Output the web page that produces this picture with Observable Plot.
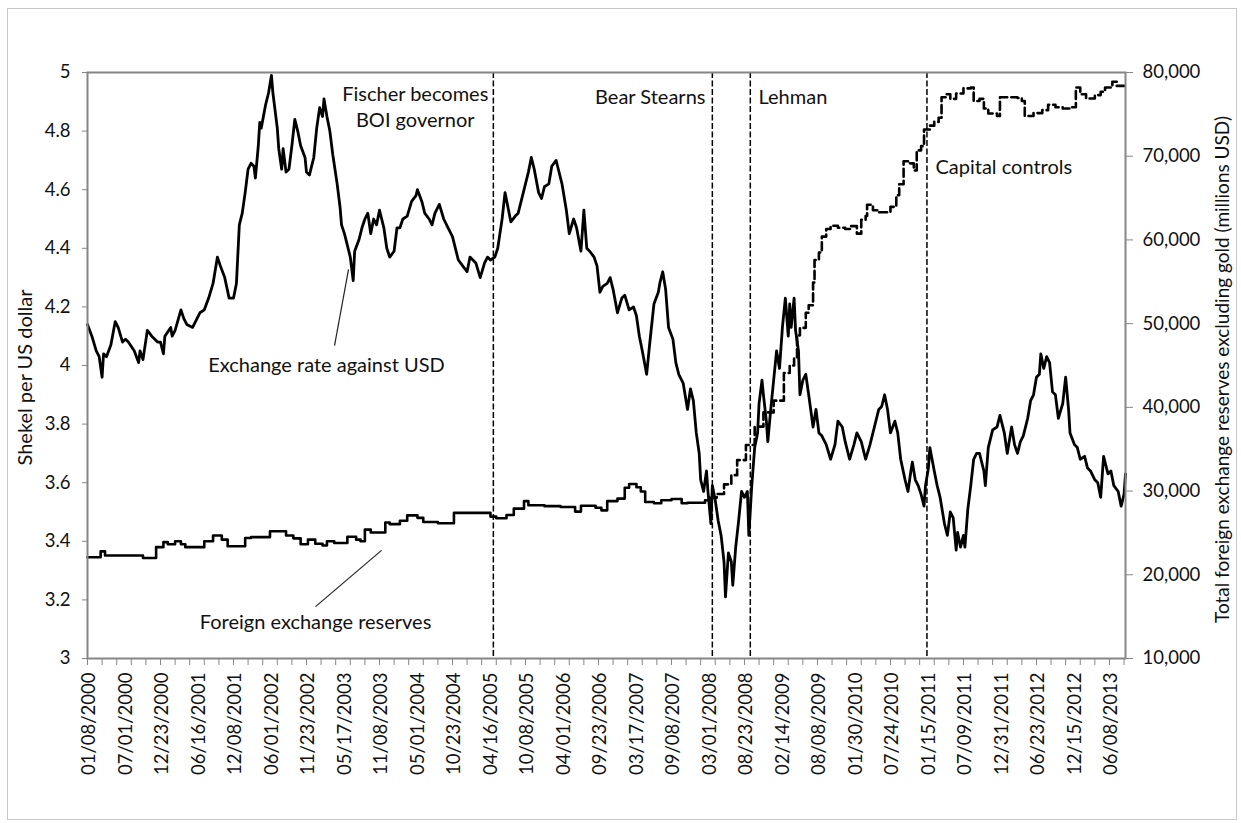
<!DOCTYPE html>
<html>
<head>
<meta charset="utf-8">
<script src="https://cdn.jsdelivr.net/npm/d3@7"></script>
<script src="https://cdn.jsdelivr.net/npm/@observablehq/plot@0.6"></script>
<style>
html, body { margin: 0; padding: 0; background: #fff; }
#wrap { position: relative; width: 1241px; height: 823px; overflow: hidden; }
#wrap svg { position: absolute; left: 0; top: 0; }
#border { position: absolute; left: 7px; top: 8px; width: 1228px; height: 810px; border: 1.5px solid #c8c8c8; pointer-events: none; }
</style>
</head>
<body>
<div id="wrap"><div id="border"></div></div>
<script>
// Weekly category axis: week index from the first observation (Saturday 01/08/2000)
const startDate = "2000-01-08";
const lastWeek = 711;

// X-axis tick labels (every 25 weeks)
const tickLabels = ["01/08/2000","07/01/2000","12/23/2000","06/16/2001","12/08/2001","06/01/2002","11/23/2002","05/17/2003","11/08/2003","05/01/2004","10/23/2004","04/16/2005","10/08/2005","04/01/2006","09/23/2006","03/17/2007","09/08/2007","03/01/2008","08/23/2008","02/14/2009","08/08/2009","01/30/2010","07/24/2010","01/15/2011","07/09/2011","12/31/2011","06/23/2012","12/15/2012","06/08/2013"];

// Left axis ticks (shekel per USD) and right axis ticks (millions USD)
const rateTicks = [3, 3.2, 3.4, 3.6, 3.8, 4, 4.2, 4.4, 4.6, 4.8, 5];
const reserveTicks = [10000, 20000, 30000, 40000, 50000, 60000, 70000, 80000];

// Exchange rate against USD: [week, shekels per dollar]
const exchangeRate = [
[0,4.14],[3,4.10],[6,4.05],[8,4.03],[10,3.96],[11,4.04],[13,4.03],[16,4.07],[19,4.15],[21,4.13],[24,4.08],[26,4.09],[28,4.08],[32,4.05],[35,4.01],[36,4.05],[38,4.02],[41,4.12],[44,4.10],[48,4.08],[50,4.08],[52,4.04],[53,4.10],[57,4.13],[58,4.10],[60,4.12],[64,4.19],[66,4.16],[68,4.14],[72,4.13],[75,4.16],[77,4.18],[80,4.19],[83,4.23],[86,4.28],[89,4.37],[91,4.34],[94,4.30],[97,4.23],[100,4.23],[102,4.28],[104,4.48],[106,4.52],[108,4.59],[110,4.67],[112,4.69],[114,4.68],[115,4.64],[117,4.75],[118,4.83],
[119,4.81],[122,4.89],[124,4.93],[126,4.99],[127,4.93],[130,4.81],[131,4.74],[133,4.67],[134,4.74],[136,4.66],[138,4.67],[140,4.75],[142,4.84],[144,4.80],[146,4.75],[149,4.71],[150,4.66],[152,4.65],[155,4.71],[157,4.81],[159,4.88],[161,4.85],[162,4.91],[164,4.85],[166,4.80],[168,4.72],[171,4.62],[173,4.54],[174,4.48],[176,4.45],[178,4.41],[180,4.37],[182,4.29],[183,4.39],[186,4.43],[188,4.47],[190,4.50],[192,4.52],[194,4.45],[196,4.50],[198,4.48],[200,4.53],[203,4.47],[205,4.40],[207,4.37],[210,4.39],[212,4.47],[214,4.47],[216,4.50],[219,4.51],[222,4.56],[225,4.58],[226,4.60],[229,4.56],[231,4.52],[234,4.50],
[236,4.48],[238,4.52],[241,4.55],[244,4.50],[247,4.47],[250,4.44],[254,4.36],[257,4.34],[260,4.32],[262,4.37],[264,4.36],[266,4.35],[269,4.30],[272,4.35],[274,4.37],[276,4.36],[279,4.37],[281,4.40],[284,4.50],[286,4.59],[288,4.54],[290,4.49],[293,4.51],[295,4.52],[298,4.58],[300,4.62],[302,4.66],[304,4.71],[306,4.67],[309,4.59],[311,4.57],[313,4.61],[316,4.62],[318,4.68],[321,4.70],[322,4.68],[325,4.62],[328,4.53],[330,4.45],[333,4.50],[335,4.47],[338,4.39],[340,4.53],[342,4.40],[344,4.39],[347,4.37],[349,4.34],[351,4.25],[353,4.27],
[356,4.28],[358,4.30],[360,4.26],[363,4.18],[366,4.23],[368,4.24],[371,4.19],[374,4.20],[376,4.17],[378,4.10],[380,4.05],[383,3.97],[385,4.07],[388,4.21],[391,4.25],[392,4.28],[394,4.32],[396,4.26],[398,4.13],[401,4.09],[403,4.01],[405,3.97],[408,3.94],[411,3.85],[413,3.92],[415,3.88],[417,3.77],[419,3.70],[420,3.61],[422,3.57],[424,3.64],[425,3.57],[427,3.46],[428,3.59],[430,3.54],[432,3.47],[434,3.42],[436,3.33],[437,3.21],[439,3.36],[441,3.33],[442,3.25],[444,3.38],[446,3.47],[448,3.57],[450,3.55],[452,3.57],[453,3.42],[455,3.59],[457,3.72],[459,3.77],[460,3.87],[462,3.95],[463,3.90],[465,3.81],[466,3.74],[468,3.85],[470,3.95],[472,4.05],
[474,3.99],[476,4.13],[478,4.23],[480,4.10],[481,4.21],[482,4.13],[484,4.23],[485,4.12],[487,4.05],[488,3.90],[490,3.95],[492,3.97],[494,3.90],[497,3.79],[499,3.85],[501,3.77],[503,3.76],[506,3.73],[509,3.68],[512,3.73],[514,3.81],[517,3.79],[519,3.74],[522,3.68],[525,3.73],[527,3.77],[530,3.74],[533,3.68],[536,3.73],[539,3.79],[542,3.85],[544,3.86],[546,3.90],[548,3.85],[550,3.77],[553,3.81],[555,3.77],[557,3.68],[560,3.61],[562,3.57],[564,3.64],[565,3.67],[567,3.61],[569,3.59],[571,3.56],[573,3.52],[574,3.59],[576,3.65],[577,3.72],[580,3.64],[582,3.59],[584,3.55],[587,3.46],[589,3.42],[591,3.50],
[593,3.48],[595,3.37],[596,3.43],[598,3.38],[600,3.42],[601,3.38],[603,3.51],[605,3.59],[607,3.68],[609,3.70],[611,3.70],[614,3.64],[615,3.59],[617,3.72],[619,3.76],[620,3.78],[623,3.79],[625,3.83],[628,3.77],[630,3.70],[632,3.76],[633,3.79],[635,3.73],[637,3.70],[639,3.74],[641,3.76],[644,3.82],[646,3.88],[648,3.90],[650,3.96],[652,3.97],[653,4.04],[655,3.99],[657,4.03],[659,4.01],[661,3.91],[663,3.90],[665,3.82],[668,3.87],[670,3.96],[672,3.85],[673,3.77],[676,3.73],[678,3.72],[680,3.68],[683,3.69],[685,3.65],[687,3.64],[690,3.61],[692,3.60],[694,3.55],[696,3.69],[699,3.63],[701,3.64],[703,3.59],[706,3.57],[708,3.52],[710,3.56],[711,3.63]
];

// Total foreign exchange reserves excluding gold (millions USD): [week, value]
const reservesEarly = [
[0,22100],[9,22800],[12,22300],[38,22000],[47,23300],[52,23900],[55,23650],[60,24000],[64,23650],[67,23300],[80,24000],[86,24700],[92,24200],[96,23400],[108,24400],[112,24500],[125,25200],[136,24700],[141,24350],[146,23650],[151,24200],[156,23700],[161,23500],[164,24000],[169,23800],[178,24550],[184,24200],[187,24000],[190,25400],[194,25050],[204,26250],[207,26050],[214,26450],[219,27100],[226,26800],[230,26300],[240,26150],[251,27400],[276,26950],[280,26750],[287,27150],[292,27900],[299,28800],[302,28300],[313,28200],[324,28100],[334,27550],[338,28250],[348,28000],[352,27700],[356,28800],[363,29100],[368,30400],[371,30850],[376,30450],[379,29950],[382,28700],[388,28550],[393,28900],[400,29050],[407,28550],[411,28600],[423,28900],[426,29200]
];
const reservesLate = [
[426,29200],[431,29650],[436,30800],[441,31900],[445,33700],[451,35500],[457,37700],[463,39400],[470,40800],[477,44100],[481,45000],[484,45900],[486,48600],[488,49500],[492,51300],[494,52200],[497,54900],[498,57600],[501,58500],[503,60400],[506,61300],[509,61700],[514,61450],[519,61300],[523,61650],[527,60750],[530,62400],[533,62850],[534,64200],[538,63550],[541,63300],[550,63950],[554,65350],[556,66650],[559,69400],[563,69150],[566,68300],[568,70700],[571,71200],[573,73200],[577,73650],[580,74100],[583,74600],[585,77050],[588,77400],[591,76850],[595,77500],[600,78100],[605,78200],[607,76600],[611,76850],[614,75700],[617,75100],[623,74800],[625,77050],[637,76950],[640,76600],[642,74800],[648,75150],[654,75500],[658,76150],[663,75850],[668,75700],[673,75850],[677,78200],[680,77400],[684,76900],[690,77300],[694,77700],[697,78200],[702,78900],[705,78400],[711,78400]
];

// Event weeks (vertical dashed lines)
const eventWeeks = [278, 428, 454, 575];

// ---------- helpers ----------
const t0 = d3.utcParse("%Y-%m-%d")(startDate).getTime();
const wk = w => new Date(t0 + w * 7 * 864e5);
const parseTick = d3.utcParse("%m/%d/%Y");
const fmtTick = d3.utcFormat("%m/%d/%Y");
// map right-axis (reserves) domain [10000, 80000] onto left-axis domain [3, 5]
const toLeft = v => 3 + (v - 10000) / 70000 * 2;
const fromLeft = y => 10000 + (y - 3) / 2 * 70000;

const rateData = exchangeRate.map(([w, v]) => ({date: wk(w), v}));
const resEarly = reservesEarly.map(([w, v]) => ({date: wk(w), v: toLeft(v)}));
const resLate = reservesLate.map(([w, v]) => ({date: wk(w), v: toLeft(v)}));
const labelDates = tickLabels.map(parseTick);
const minorDates = d3.range(0, lastWeek + 1, 10).map(wk);

const axisGray = "#868686";
const ink = "#111";
const noteSize = 20;

const chart = Plot.plot({
  width: 1241,
  height: 823,
  marginLeft: 87,
  marginRight: 116,
  marginTop: 72,
  marginBottom: 165,
  style: {fontFamily: "Lato, 'Open Sans', sans-serif", fontSize: "18px", background: "transparent", color: ink},
  x: {type: "utc", domain: [wk(0), wk(lastWeek)]},
  y: {domain: [3, 5]},
  marks: [
    Plot.ruleX(eventWeeks, {x: d => wk(d), stroke: "#000", strokeWidth: 1.5, strokeDasharray: "6,2.5"}),
    Plot.line(resEarly, {x: "date", y: "v", curve: "step-after", stroke: "#000", strokeWidth: 2.6}),
    Plot.line(resLate, {x: "date", y: "v", curve: "step-after", stroke: "#000", strokeWidth: 2.6, strokeDasharray: "8,4"}),
    Plot.line(rateData, {x: "date", y: "v", stroke: "#000", strokeWidth: 2.8, strokeLinejoin: "round"}),
    Plot.frame({stroke: axisGray, strokeWidth: 2}),
    Plot.axisY({anchor: "left", ticks: rateTicks, tickSize: 5, tickPadding: 12, tickFormat: d => String(+d.toFixed(1)), stroke: axisGray, fill: ink, fontSize: 18.5, label: null}),
    Plot.axisY({anchor: "right", ticks: reserveTicks.map(toLeft), tickSize: 7, tickPadding: 10, tickFormat: d => d3.format(",")(Math.round(fromLeft(d))), stroke: axisGray, fill: ink, fontSize: 18.5, label: null}),
    Plot.axisX({anchor: "bottom", ticks: minorDates, tickSize: 7, tickFormat: () => "", stroke: axisGray, label: null}),
    Plot.axisX({anchor: "bottom", ticks: labelDates, tickSize: 0, tickPadding: 14, tickRotate: -90, tickFormat: fmtTick, fill: ink, fontSize: 18.5, dx: 2, label: null}),
    // axis titles
    Plot.text(["Shekel per US dollar"], {frameAnchor: "left", dx: -62, dy: 12, rotate: -90, textAnchor: "middle", lineAnchor: "middle", fontSize: 20, fill: ink}),
    Plot.text(["Total foreign exchange reserves excluding gold (millions USD)"], {frameAnchor: "right", dx: 97, dy: 4, rotate: -90, textAnchor: "middle", lineAnchor: "middle", fontSize: 19, fill: ink}),
    // annotations
    Plot.text([{w: 224.5, v: 4.887, t: "Fischer becomes\nBOI governor"}], {x: d => wk(d.w), y: "v", text: "t", textAnchor: "middle", lineAnchor: "middle", lineHeight: 1.32, fontSize: noteSize, fill: ink}),
    Plot.text([{w: 423.3, v: 4.915, t: "Bear Stearns"}], {x: d => wk(d.w), y: "v", text: "t", textAnchor: "end", fontSize: noteSize, fill: ink}),
    Plot.text([{w: 459.6, v: 4.915, t: "Lehman"}], {x: d => wk(d.w), y: "v", text: "t", textAnchor: "start", fontSize: noteSize, fill: ink}),
    Plot.text([{w: 580.8, v: 4.676, t: "Capital controls"}], {x: d => wk(d.w), y: "v", text: "t", textAnchor: "start", fontSize: noteSize, fill: ink}),
    Plot.text([{w: 82.7, v: 4.0, t: "Exchange rate against USD"}], {x: d => wk(d.w), y: "v", text: "t", textAnchor: "start", fontSize: noteSize, fill: ink}),
    Plot.text([{w: 76.9, v: 3.124, t: "Foreign exchange reserves"}], {x: d => wk(d.w), y: "v", text: "t", textAnchor: "start", fontSize: noteSize, fill: ink}),
    Plot.link([{a: 169.2, b: 4.068, c: 178.8, d: 4.328}], {x1: d => wk(d.a), y1: "b", x2: d => wk(d.c), y2: "d", stroke: "#222", strokeWidth: 1.2}),
    Plot.link([{a: 156.2, b: 3.177, c: 201.4, d: 3.369}], {x1: d => wk(d.a), y1: "b", x2: d => wk(d.c), y2: "d", stroke: "#222", strokeWidth: 1.2})
  ]
});
document.getElementById("wrap").prepend(chart);
</script>
</body>
</html>
